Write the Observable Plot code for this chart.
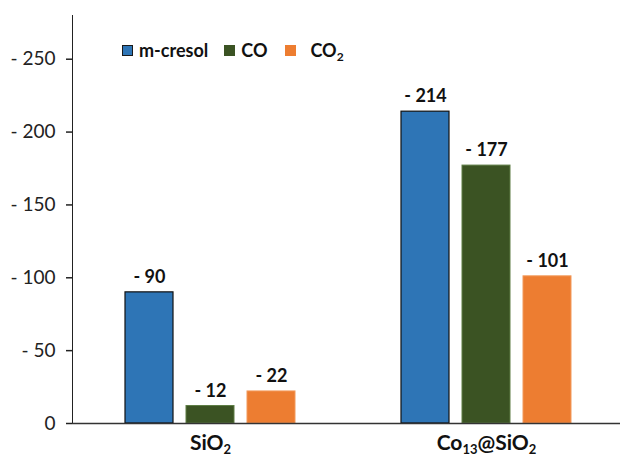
<!DOCTYPE html>
<html>
<head>
<meta charset="utf-8">
<script src="https://cdn.jsdelivr.net/npm/d3@7"></script>
<script src="https://cdn.jsdelivr.net/npm/@observablehq/plot@0.6"></script>
<style>
  body { margin: 0; background: #fff; }
  #wrap { position: relative; width: 620px; height: 460px; overflow: hidden; font-family: Lato, sans-serif; }
  #chart svg { max-width: none !important; }
  #legend { position: absolute; left: 122px; top: 39px; display: flex; align-items: center; font: bold 18px Lato, sans-serif; color: #111; }
  #legend .item { display: flex; align-items: center; }
  #legend .sw { width: 11px; height: 11px; box-sizing: border-box; display: inline-block; }
  #legend sub { font-size: 12px; vertical-align: -4px; line-height: 0; }
  g[aria-label="fx-axis tick label"] text { font: bold 21px Lato, sans-serif; fill: #111; }
  g[aria-label="y-axis tick label"] text { font: 19px Lato, sans-serif; fill: #222; }
</style>
</head>
<body>
<div id="wrap">
  <div id="chart"></div>
  <div id="legend"></div>
</div>
<script>
const groups = ["SiO2", "Co13@SiO2"];
const series = ["m-cresol", "CO", "CO2"];
const colors = ["#2E75B6", "#3B5323", "#ED7D31"];
const strokes = ["#111111", "#5E7D45", "#F29A5C"];
const sio2Values = [90, 12, 22];
const co13Values = [214, 177, 101];
const yTicks = [0, 50, 100, 150, 200, 250];

const data = [];
series.forEach((s, i) => {
  data.push({group: groups[0], series: s, value: sio2Values[i]});
  data.push({group: groups[1], series: s, value: co13Values[i]});
});

const outlineMarks = series.map((s, i) =>
  Plot.barY(data, {filter: d => d.series === s, fx: "group", x: "series", y: "value", fill: "none", stroke: strokes[i], strokeWidth: i === 0 ? 1.2 : 1})
);

const plot = Plot.plot({
  width: 624,
  height: 460,
  marginLeft: 72,
  marginRight: 0,
  marginTop: 15,
  marginBottom: 37,
  style: {fontFamily: "Lato, sans-serif", fontSize: "18px", color: "#222", background: "#fff"},
  fx: {domain: groups, padding: 0, label: null, axis: "bottom", tickSize: 0, tickPadding: 12},
  x: {domain: series, paddingInner: 0.22, paddingOuter: 0.85, axis: null},
  y: {domain: [0, 280], ticks: yTicks, tickFormat: d => d === 0 ? "0" : "- " + d, tickSize: 6, tickPadding: 11, label: null, line: true},
  color: {domain: series, range: colors},
  marks: [
    Plot.barY(data, {fx: "group", x: "series", y: "value", fill: "series"}),
    ...outlineMarks,
    Plot.ruleY([0], {stroke: "#333", strokeWidth: 1.5}),
    Plot.text(data, {fx: "group", x: "series", y: "value", text: d => "- " + d.value, dy: -15, fontWeight: "bold", fontSize: 18, fill: "#111"})
  ]
});
document.getElementById("chart").appendChild(plot);

// style y axis ticks/line gray
d3.select(plot).selectAll('g[aria-label^="y-axis"]').filter(function() { return !this.getAttribute("aria-label").includes("label"); })
  .attr("stroke", "#595959").attr("stroke-width", 1.5);

// subscripts for digits in fx tick labels
function parts(str) { return str.match(/\d+|\D+/g).map(p => ({t: p, sub: /^\d+$/.test(p)})); }
d3.select(plot).selectAll('g[aria-label="fx-axis tick label"] text').each(function() {
  const t = d3.select(this);
  const s = t.text();
  t.text(null);
  let shifted = false;
  parts(s).forEach(p => {
    const ts = t.append("tspan").text(p.t);
    if (p.sub) { ts.attr("font-size", "13px").attr("dy", shifted ? null : "4px"); shifted = true; }
    else if (shifted) { ts.attr("dy", "-4px"); shifted = false; }
  });
});

// legend
const legend = d3.select("#legend");
series.forEach((s, i) => {
  const item = legend.append("div").attr("class", "item").style("margin-right", i === 0 ? "16px" : "18px");
  item.append("span").attr("class", "sw").style("background", colors[i])
    .style("border", i === 0 ? "1px solid #1a1a1a" : "none")
    .style("margin-right", i === 2 ? "14px" : "6px");
  const lab = item.append("span");
  parts(s).forEach(p => { if (p.sub) lab.append("sub").text(p.t); else lab.append("span").text(p.t); });
});
</script>
</body>
</html>
